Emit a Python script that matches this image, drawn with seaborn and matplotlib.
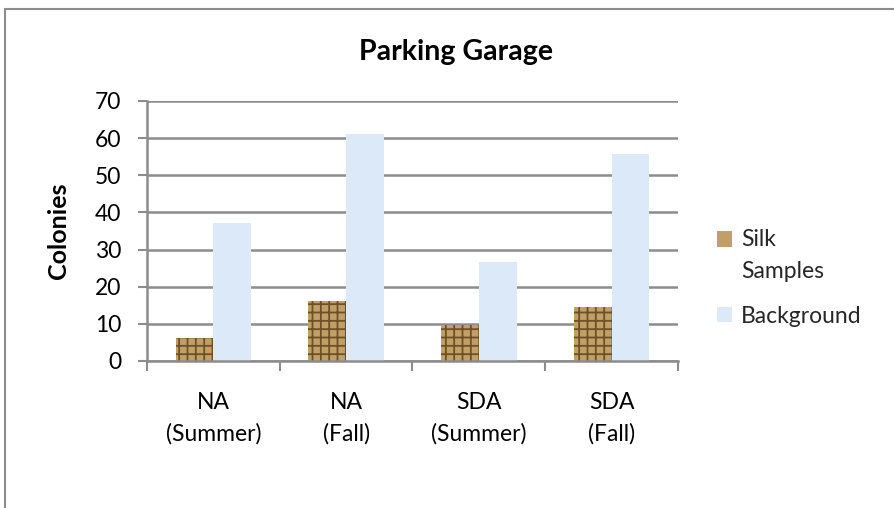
import pandas as pd
import numpy as np
import matplotlib.pyplot as plt
import seaborn as sns
from matplotlib.patches import Rectangle

categories = ['NA\n(Summer)', 'NA\n(Fall)', 'SDA\n(Summer)', 'SDA\n(Fall)']
silk = [6.2, 16.2, 9.7, 14.5]
background = [37.1, 61.1, 26.6, 55.7]

df = pd.DataFrame({
    'Category': categories * 2,
    'Colonies': silk + background,
    'Series': ['Silk\nSamples'] * 4 + ['Background'] * 4,
})

sns.set_style('white')
plt.rcParams['font.family'] = ['Lato', 'DejaVu Sans']
plt.rcParams['hatch.linewidth'] = 1.3

fig = plt.figure(figsize=(8.94, 5.08), dpi=100)
ax = fig.add_axes([0.1644, 0.2894, 0.594, 0.5118])

sns.barplot(data=df, x='Category', y='Colonies', hue='Series',
            palette=['#c0a066', '#dce9f8'], width=0.57, gap=0,
            saturation=1, ax=ax, legend=True)

# woven look on silk bars
for bar in ax.containers[0]:
    bar.set_hatch('++')
    bar.set_edgecolor('#6e5128')
    bar.set_linewidth(0)
for bar in ax.containers[1]:
    bar.set_edgecolor('none')

ax.set_ylim(0, 70)
ax.set_xlim(-0.5, 3.5)
ax.set_yticks(range(0, 71, 10))
ax.yaxis.grid(True, color='#8c8c8c', linewidth=1.8)
ax.set_axisbelow(True)
for s in ['top', 'right']:
    ax.spines[s].set_visible(False)
for s in ['left', 'bottom']:
    ax.spines[s].set_color('#8c8c8c')
    ax.spines[s].set_linewidth(1.8)

ax.tick_params(axis='y', length=6.5, width=1.5, color='#8c8c8c', labelsize=16.5,
               labelcolor='black', direction='out', left=True, pad=12)
ax.tick_params(axis='x', which='major', length=0, labelsize=16.5, labelcolor='black', pad=22)
for lbl in ax.get_xticklabels():
    lbl.set_linespacing(1.62)
ax.set_xticks(np.arange(-0.5, 4, 1), minor=True)
ax.tick_params(axis='x', which='minor', length=7, width=1.5, color='#8c8c8c',
               direction='out', bottom=True)
ax.set_xlabel('')
ax.set_ylabel('Colonies', fontsize=18, fontweight='bold', labelpad=18, color='black')

fig.text(456 / 894, 1 - 52 / 508, 'Parking Garage', fontsize=20.5, fontweight='bold',
         ha='center', va='center', color='black')

leg = ax.legend(loc='center left', bbox_to_anchor=(1.035, 0.32), frameon=False,
                fontsize=16.5, handlelength=0.65, handleheight=0.65,
                handletextpad=0.4, labelspacing=1.05)
for t in leg.get_texts():
    t.set_linespacing(1.62)
for h in leg.legend_handles:
    h.set_edgecolor('none')
# put the silk swatch next to the first line, like the original
silk_handle = leg.legend_handles[0]
silk_handle.set_y(silk_handle.get_y() + 12)

fig.patches.append(Rectangle((5 / 894, -0.1), 1.2, 1 - 9 / 508 + 0.1,
                             transform=fig.transFigure, fill=False,
                             edgecolor='#8c8c8c', linewidth=1.5))

fig.savefig('out.png', dpi=100)
